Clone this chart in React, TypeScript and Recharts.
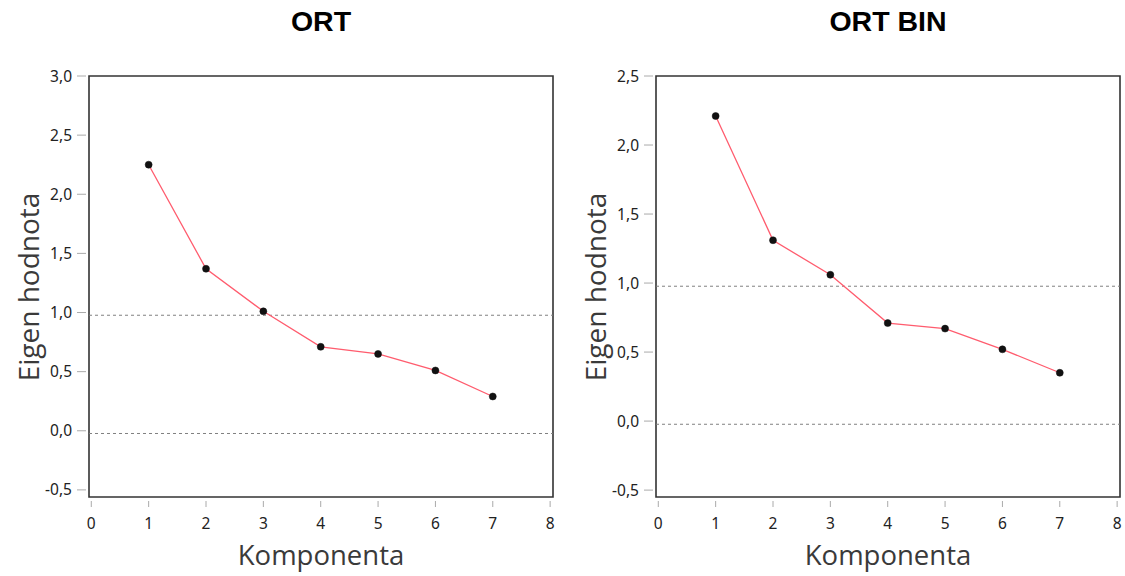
import React from "react";
import {
  Line,
  LineChart,
  ReferenceArea,
  ReferenceLine,
  XAxis,
  YAxis,
} from "recharts";

// Scree plots of eigenvalues per component, two variants side by side.

const components = [1, 2, 3, 4, 5, 6, 7];
const ortValues = [2.25, 1.37, 1.01, 0.71, 0.65, 0.51, 0.29];
const ortBinValues = [2.21, 1.31, 1.06, 0.71, 0.67, 0.52, 0.35];

const xTicks = [0, 1, 2, 3, 4, 5, 6, 7, 8];
const ortYTicks = [-0.5, 0, 0.5, 1, 1.5, 2, 2.5, 3];
const ortBinYTicks = [-0.5, 0, 0.5, 1, 1.5, 2, 2.5];

// Kaiser cut-off and zero baseline
const cutoffLines = [0.977, -0.023];

const xDomain: [number, number] = [-0.04, 8.05];

const tickFont = "'Noto Sans', 'Open Sans', sans-serif";
const labelFont = "'Open Sans', sans-serif";

const fmtComma = (v: number) => v.toFixed(1).replace(".", ",");

function YTick({ x, y, payload }: any) {
  return (
    <g>
      <line x1={x - 12} x2={x - 3} y1={y} y2={y} stroke="#aaa" />
      <text
        x={x - 17}
        y={y}
        dy={5.5}
        textAnchor="end"
        fontFamily={tickFont}
        fontSize={15.5}
        fill="#222"
      >
        {fmtComma(payload.value)}
      </text>
    </g>
  );
}

function XTick({ x, y, payload }: any) {
  return (
    <g>
      <line x1={x} x2={x} y1={y + 4} y2={y + 10} stroke="#aaa" />
      <text
        x={x}
        y={y + 32}
        textAnchor="middle"
        fontFamily={tickFont}
        fontSize={15.5}
        fill="#222"
      >
        {payload.value}
      </text>
    </g>
  );
}

function ScreePanel({
  title,
  values,
  yDomain,
  yTicks,
  left,
}: {
  title: string;
  values: number[];
  yDomain: [number, number];
  yTicks: number[];
  left: number;
}) {
  const data = components.map((c, i) => ({ comp: c, value: values[i] }));
  return (
    <div style={{ position: "absolute", left, top: 0, width: 570, height: 576 }}>
      <div
        style={{
          position: "absolute",
          left: 0,
          width: 642,
          top: 5,
          textAlign: "center",
          fontFamily: "'Liberation Sans', Arial, sans-serif",
          fontWeight: "bold",
          fontSize: 28.5,
          color: "#000",
        }}
      >
        {title}
      </div>
      <div
        style={{
          position: "absolute",
          left: 28,
          top: 287,
          transform: "translate(-50%, -50%) rotate(-90deg)",
          whiteSpace: "nowrap",
          fontFamily: labelFont,
          fontSize: 28,
          color: "#3a3a3a",
        }}
      >
        Eigen hodnota
      </div>
      <div
        style={{
          position: "absolute",
          left: 0,
          width: 642,
          top: 536,
          textAlign: "center",
          fontFamily: labelFont,
          fontSize: 27.5,
          color: "#3a3a3a",
        }}
      >
        Komponenta
      </div>
      <LineChart
        width={570}
        height={576}
        data={data}
        margin={{ top: 76, right: 17, bottom: 49, left: 29 }}
        style={{ position: "absolute", left: 0, top: 0 }}
      >
        <XAxis
          dataKey="comp"
          type="number"
          domain={xDomain}
          ticks={xTicks}
          allowDataOverflow
          axisLine={false}
          tickLine={false}
          tickSize={0}
          tickMargin={0}
          height={30}
          tick={<XTick />}
        />
        <YAxis
          type="number"
          domain={yDomain}
          ticks={yTicks}
          allowDataOverflow
          axisLine={false}
          tickLine={false}
          tickSize={0}
          tickMargin={0}
          width={60}
          tick={<YTick />}
        />
        {cutoffLines.map((v) => (
          <ReferenceLine
            key={v}
            y={v}
            stroke="#808080"
            strokeDasharray="3 3"
          />
        ))}
        <ReferenceArea
          x1={xDomain[0]}
          x2={xDomain[1]}
          y1={yDomain[0]}
          y2={yDomain[1]}
          ifOverflow="visible"
          fill="none"
          fillOpacity={0}
          stroke="#333"
          strokeWidth={1.6}
        />
        <Line
          dataKey="value"
          stroke="#ff5c6e"
          strokeWidth={1.3}
          dot={{ r: 3.5, fill: "#111", stroke: "#111", strokeWidth: 0.5 }}
          isAnimationActive={false}
        />
      </LineChart>
    </div>
  );
}

export default function App() {
  return (
    <div
      style={{
        position: "absolute",
        left: 0,
        top: 0,
        width: 1125,
        height: 576,
        background: "#fff",
        overflow: "hidden",
      }}
    >
      <ScreePanel
        title="ORT"
        values={ortValues}
        yDomain={[-0.56, 3]}
        yTicks={ortYTicks}
        left={0}
      />
      <ScreePanel
        title="ORT BIN"
        values={ortBinValues}
        yDomain={[-0.55, 2.5]}
        yTicks={ortBinYTicks}
        left={567}
      />
    </div>
  );
}
